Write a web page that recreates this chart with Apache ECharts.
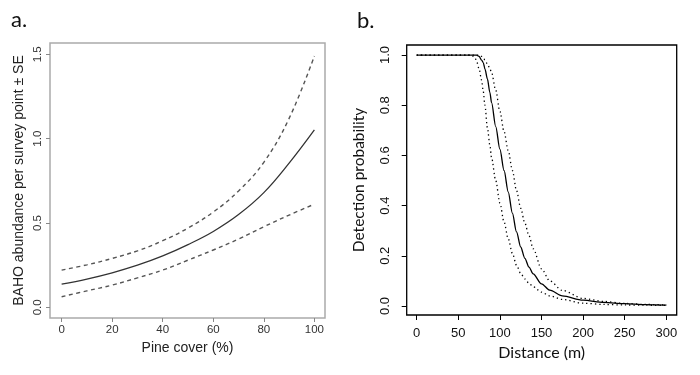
<!DOCTYPE html>
<html>
<head>
<meta charset="utf-8">
<script src="https://cdn.jsdelivr.net/npm/echarts@6/dist/echarts.min.js"></script>
<style>html,body{margin:0;padding:0;background:#fff}#c{width:700px;height:375px}</style>
</head>
<body>
<div id="c"></div>
<script>
// Panel a: BAHO abundance vs pine cover
var pineCover = [0,10,20,30,40,50,60,70,80,90,100];
var bahoMean  = [0.138,0.168,0.205,0.25,0.305,0.372,0.45,0.55,0.68,0.855,1.052];
var bahoUpper = [0.221,0.252,0.29,0.335,0.395,0.47,0.565,0.69,0.86,1.12,1.49];
var bahoLower = [0.063,0.098,0.132,0.175,0.221,0.28,0.34,0.405,0.478,0.547,0.612];
var aYTicks = [0,0.5,1,1.5];
var aXTicks = [0,20,40,60,80,100];

// Panel b: detection probability vs distance
var distances = [0,60,65,68,70,72,75,78,80,82,85,88,90,95,100,105,110,115,120,125,130,135,140,150,160,175,200,225,250,275,300];
var detMean  = [1,1,1,1,1,1,0.995,0.98,0.97,0.945,0.905,0.85,0.81,0.715,0.625,0.54,0.455,0.37,0.295,0.235,0.19,0.155,0.128,0.088,0.063,0.04,0.023,0.014,0.009,0.005,0.003];
var detLower = [1,1,1,0.995,0.99,0.975,0.945,0.9,0.855,0.8,0.71,0.64,0.59,0.5,0.41,0.335,0.268,0.21,0.162,0.13,0.108,0.09,0.077,0.055,0.04,0.026,0.011,0.006,0.004,0.003,0.002];
var detUpper = [1,1,1,1,1,1,1,0.995,0.99,0.98,0.965,0.945,0.93,0.86,0.775,0.695,0.62,0.54,0.46,0.39,0.33,0.28,0.228,0.148,0.1,0.062,0.03,0.018,0.01,0.006,0.004];
var bYTicks = [0,0.2,0.4,0.6,0.8,1.0];
var bXTicks = [0,50,100,150,200,250,300];

function pairs(xs, ys){ return xs.map(function(x,i){ return [x, ys[i]]; }); }

var chart = echarts.init(document.getElementById('c'), null, {renderer:'canvas'});
var grayText = '#333';
var fmt1 = function(v){ return v.toFixed(1); };
var option = {
  animation: false,
  backgroundColor: '#fff',
  grid: [
    {left: 50, top: 43, width: 275, height: 275, show:true, borderColor:'#aaa', borderWidth:1.5, backgroundColor:'transparent'},
    {left: 406.7, top: 45, width: 270, height: 270, show:true, borderColor:'#000', borderWidth:1.3, backgroundColor:'transparent'}
  ],
  xAxis: [
    {gridIndex:0, type:'value', min:-4.6, max:104.2, position:'bottom',
     axisLine:{show:false, onZero:false}, splitLine:{show:false},
     axisTick:{show:true, length:4, customValues:aXTicks, lineStyle:{color:'#888'}},
     axisLabel:{margin:6, customValues:aXTicks, color:grayText, fontSize:11.5, fontFamily:'Liberation Sans, Arial'},
     name:'Pine cover (%)', nameLocation:'middle', nameGap:20,
     nameTextStyle:{color:'#222', fontSize:14, fontFamily:'Liberation Sans, Arial'}},
    {gridIndex:1, type:'value', min:-12, max:312.5, position:'bottom',
     axisLine:{show:false, onZero:false}, splitLine:{show:false},
     axisTick:{show:true, length:5, customValues:bXTicks, lineStyle:{color:'#000'}},
     axisLabel:{margin:12, customValues:bXTicks, color:'#111', fontSize:13, fontFamily:'Liberation Sans, Arial'},
     name:'Distance (m)', nameLocation:'middle', nameGap:28,
     nameTextStyle:{color:'#111', fontSize:16, fontFamily:'Lato'}}
  ],
  yAxis: [
    {gridIndex:0, type:'value', min:-0.063, max:1.567, position:'left',
     axisLine:{show:false, onZero:false}, splitLine:{show:false},
     axisTick:{show:true, length:4, customValues:aYTicks, lineStyle:{color:'#888'}},
     axisLabel:{margin:6, rotate:90, customValues:aYTicks, color:grayText, fontSize:11.5, fontFamily:'Liberation Sans, Arial',
       formatter:fmt1},
     name:'BAHO abundance per survey point \u00b1 SE', nameLocation:'middle', nameGap:24, nameRotate:90,
     nameTextStyle:{color:'#222', fontSize:14, fontFamily:'Liberation Sans, Arial'}},
    {gridIndex:1, type:'value', min:-0.036, max:1.04, position:'left',
     axisLine:{show:false, onZero:false}, splitLine:{show:false},
     axisTick:{show:true, length:5, customValues:bYTicks, lineStyle:{color:'#000'}},
     axisLabel:{margin:15, rotate:90, customValues:bYTicks, color:'#111', fontSize:13, fontFamily:'Liberation Sans, Arial',
       formatter:fmt1},
     name:'Detection probability', nameLocation:'middle', nameGap:40, nameRotate:90,
     nameTextStyle:{color:'#111', fontSize:15.5, fontFamily:'Lato'}}
  ],
  graphic: [
    {type:'text', x:11, y:9, style:{text:'a.', fill:'#111', font:'22px Lato'}},
    {type:'text', x:357, y:10, style:{text:'b.', fill:'#111', font:'22px Lato'}}
  ],
  series: [
    {type:'line', xAxisIndex:0, yAxisIndex:0, data:pairs(pineCover,bahoUpper), showSymbol:false, smooth:0.4,
     lineStyle:{color:'#555', width:1.4, type:[4,3.5]}},
    {type:'line', xAxisIndex:0, yAxisIndex:0, data:pairs(pineCover,bahoLower), showSymbol:false, smooth:0.4,
     lineStyle:{color:'#555', width:1.4, type:[4,3.5]}},
    {type:'line', xAxisIndex:0, yAxisIndex:0, data:pairs(pineCover,bahoMean), showSymbol:false, smooth:0.4,
     lineStyle:{color:'#333', width:1.3}},
    {type:'line', xAxisIndex:1, yAxisIndex:1, data:pairs(distances,detLower), showSymbol:false, smooth:0.3, smoothMonotone:'x',
     lineStyle:{color:'#000', width:1.3, type:[1.3,3]}},
    {type:'line', xAxisIndex:1, yAxisIndex:1, data:pairs(distances,detUpper), showSymbol:false, smooth:0.3, smoothMonotone:'x',
     lineStyle:{color:'#000', width:1.3, type:[1.3,3]}},
    {type:'line', xAxisIndex:1, yAxisIndex:1, data:pairs(distances,detMean), showSymbol:false, smooth:0.3, smoothMonotone:'x',
     lineStyle:{color:'#000', width:1.3}}
  ]
};
chart.setOption(option);
</script>
</body>
</html>
